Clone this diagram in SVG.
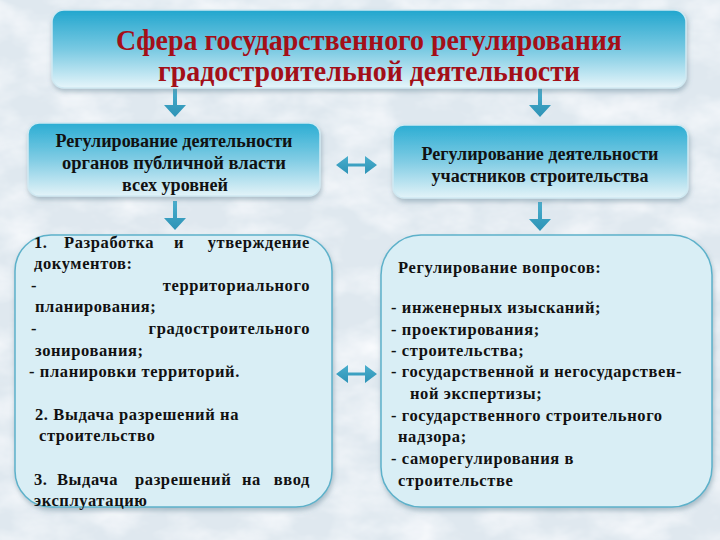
<svg xmlns="http://www.w3.org/2000/svg" width="720" height="540" viewBox="0 0 720 540">
<defs>
  <filter id="tex" x="0" y="0" width="100%" height="100%">
    <feTurbulence type="fractalNoise" baseFrequency="0.018 0.03" numOctaves="4" seed="7" result="n"/>
    <feColorMatrix in="n" type="matrix" values="0 0 0 0 0.96  0 0 0 0 0.97  0 0 0 0 0.99  0 0 0 -1.6 1.05"/>
    <feComposite in2="SourceGraphic" operator="in"/>
  </filter>
  <filter id="sh" x="-10%" y="-10%" width="120%" height="130%">
    <feDropShadow dx="1" dy="3" stdDeviation="2.5" flood-color="#5a7f90" flood-opacity="0.45"/>
  </filter>
  <linearGradient id="gTop" x1="0" y1="0" x2="0" y2="1">
    <stop offset="0" stop-color="#22a6ce"/>
    <stop offset="0.5" stop-color="#78c9e2"/>
    <stop offset="1" stop-color="#e6f5fa"/>
  </linearGradient>
  <linearGradient id="gMid" x1="0" y1="0" x2="0" y2="1">
    <stop offset="0" stop-color="#2badd3"/>
    <stop offset="0.5" stop-color="#80cce4"/>
    <stop offset="1" stop-color="#e3f3f8"/>
  </linearGradient>
  <linearGradient id="gArr" x1="0" y1="0" x2="0" y2="1">
    <stop offset="0" stop-color="#4aaecd"/>
    <stop offset="1" stop-color="#2d93b6"/>
  </linearGradient>
  <style>
    .box { stroke: #cfe9f2; stroke-width: 1.5; filter: url(#sh); }
    .big { fill: #d9eef5; stroke: #5db1ca; stroke-width: 1.5; filter: url(#sh); }
    .title { font-family: "Liberation Serif", "DejaVu Serif", serif; font-weight: bold; font-size: 30px; fill: #a30f18; text-anchor: middle; }
    .hdr { font-family: "Liberation Serif", "DejaVu Serif", serif; font-weight: bold; font-size: 18px; fill: #111; text-anchor: middle; }
    .t { font-family: "Liberation Serif", "DejaVu Serif", serif; font-weight: bold; font-size: 16.5px; fill: #111; letter-spacing: 0.6px; }
    .e { text-anchor: end; }
    .arr { fill: url(#gArr); }
  </style>
</defs>
<rect width="720" height="540" fill="#dfe8ef"/>
<rect width="720" height="540" fill="#ffffff" filter="url(#tex)"/>

<g id="connectors">
  <path class="arr" d="M173 88 h4 v17 h9 l-11 12 l-11 -12 h9 z"/>
  <path class="arr" d="M538 88 h4 v17 h9 l-11 12 l-11 -12 h9 z"/>
  <path class="arr" d="M173 201 h4 v17 h9 l-11 12 l-11 -12 h9 z"/>
  <path class="arr" d="M538 202 h4 v17 h9 l-11 12 l-11 -12 h9 z"/>
  <path class="arr" d="M336 165 l12 -9 v7.5 h17 v-7.5 l12 9 l-12 9 v-7.5 h-17 v7.5 z"/>
  <path class="arr" d="M336 374 l12 -9 v7.5 h17 v-7.5 l12 9 l-12 9 v-7.5 h-17 v7.5 z"/>
</g>

<g id="top">
  <rect class="box" x="52" y="10" width="634" height="78" rx="12" fill="url(#gTop)"/>
  <text class="title" x="369" y="50" textLength="506" lengthAdjust="spacingAndGlyphs">Сфера государственного регулирования</text>
  <text class="title" x="369" y="81" textLength="422" lengthAdjust="spacingAndGlyphs">градостроительной деятельности</text>
</g>

<g id="left-header">
  <rect class="box" x="28" y="123" width="292" height="73" rx="11" fill="url(#gMid)"/>
  <text class="hdr" x="174" y="147" textLength="237" lengthAdjust="spacingAndGlyphs">Регулирование деятельности</text>
  <text class="hdr" x="174" y="169" textLength="224" lengthAdjust="spacingAndGlyphs">органов публичной власти</text>
  <text class="hdr" x="175" y="191" textLength="106" lengthAdjust="spacingAndGlyphs">всех уровней</text>
</g>

<g id="right-header">
  <rect class="box" x="393" y="125" width="295" height="73" rx="11" fill="url(#gMid)"/>
  <text class="hdr" x="540" y="160" textLength="237" lengthAdjust="spacingAndGlyphs">Регулирование деятельности</text>
  <text class="hdr" x="540" y="182" textLength="217" lengthAdjust="spacingAndGlyphs">участников строительства</text>
</g>

<g id="left-list">
  <rect class="big" x="15" y="235" width="317" height="272" rx="36"/>
  <text class="t" x="34" y="248">1.</text>
  <text class="t" x="64" y="248">Разработка</text>
  <text class="t" x="174" y="248">и</text>
  <text class="t e" x="310" y="248">утверждение</text>
  <text class="t" x="34" y="269" letter-spacing="1.4">документов:</text>
  <text class="t" x="31" y="291">-</text>
  <text class="t e" x="310" y="291">территориального</text>
  <text class="t" x="35" y="312">планирования;</text>
  <text class="t" x="31" y="334">-</text>
  <text class="t e" x="310" y="334">градостроительного</text>
  <text class="t" x="35" y="356">зонирования;</text>
  <text class="t" x="29" y="377">- планировки территорий.</text>
  <text class="t" x="35" y="420">2. Выдача разрешений на</text>
  <text class="t" x="39" y="441">строительство</text>
  <text class="t" x="34" y="485">3.</text>
  <text class="t" x="57" y="485">Выдача</text>
  <text class="t" x="135" y="485">разрешений</text>
  <text class="t" x="242" y="485">на</text>
  <text class="t e" x="310" y="485">ввод</text>
  <text class="t" x="34" y="506">эксплуатацию</text>
</g>

<g id="right-list">
  <rect class="big" x="381" y="235" width="331" height="272" rx="40"/>
  <text class="t" x="398" y="273">Регулирование вопросов:</text>
  <text class="t" x="391" y="313">- инженерных изысканий;</text>
  <text class="t" x="391" y="335">- проектирования;</text>
  <text class="t" x="391" y="356">- строительства;</text>
  <text class="t" x="391" y="377">- государственной и негосударствен-</text>
  <text class="t" x="410" y="399">ной экспертизы;</text>
  <text class="t" x="391" y="421">- государственного строительного</text>
  <text class="t" x="398" y="442">надзора;</text>
  <text class="t" x="391" y="464">- саморегулирования в</text>
  <text class="t" x="398" y="486">строительстве</text>
</g>
</svg>
